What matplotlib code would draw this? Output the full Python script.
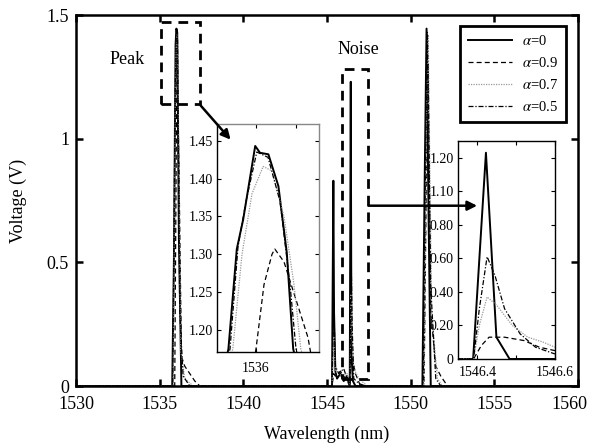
import matplotlib
matplotlib.use("Agg")
import matplotlib.pyplot as plt
from matplotlib.patches import Rectangle, FancyArrowPatch
from matplotlib.transforms import ScaledTranslation

plt.rcParams['font.family'] = ['Liberation Serif', 'DejaVu Serif']
plt.rcParams['mathtext.fontset'] = 'stix'

# ---------------- data ----------------
labels = [r'$\alpha$=0', r'$\alpha$=0.9', r'$\alpha$=0.7', r'$\alpha$=0.5']

# main plot series
wl_a0 = [1530, 1535.75, 1535.85, 1535.95, 1536.0, 1536.05, 1536.15, 1536.3,
         1545.3, 1545.38, 1545.42, 1545.5, 1545.6, 1545.8, 1546.0, 1546.2, 1546.36,
         1546.42, 1546.46, 1546.55, 1546.7, 1550.7, 1550.85, 1550.95, 1551.05, 1551.2, 1560]
v_a0 = [0, 0, 0.5, 1.38, 1.445, 1.43, 0.6, 0,
        0, 0.83, 0.3, 0.06, 0.03, 0.05, 0.02, 0.04, 0.0,
        1.23, 0.13, 0.02, 0, 0, 0.9, 1.445, 0.8, 0, 0]

wl_a9 = [1530, 1535.9, 1536.0, 1536.05, 1536.15, 1536.3, 1536.5, 1536.8, 1537.1, 1537.4,
         1545.3, 1545.4, 1545.5, 1545.8, 1546.1, 1546.38, 1546.43, 1546.5, 1546.7, 1547.0,
         1550.8, 1550.95, 1551.05, 1551.2, 1551.5, 1551.8, 1552.2, 1560]
v_a9 = [0, 0, 1.05, 1.305, 0.9, 0.12, 0.08, 0.05, 0.02, 0,
        0, 0.05, 0.04, 0.06, 0.03, 0, 0.13, 0.12, 0.05, 0,
        0, 0.9, 1.3, 0.3, 0.08, 0.04, 0, 0]

wl_a7 = [1530, 1535.8, 1535.95, 1536.02, 1536.1, 1536.25, 1536.5, 1537.0,
         1545.3, 1545.4, 1545.5, 1545.9, 1546.2, 1546.38, 1546.43, 1546.5, 1546.6, 1546.9, 1547.4,
         1550.8, 1550.95, 1551.05, 1551.25, 1551.6, 1551.9, 1560]
v_a7 = [0, 0, 1.3, 1.42, 1.25, 0.15, 0.03, 0,
        0, 0.2, 0.06, 0.04, 0.05, 0, 0.37, 0.2, 0.07, 0.03, 0,
        0, 1.1, 1.42, 0.3, 0.03, 0, 0]

wl_a5 = [1530, 1535.78, 1535.93, 1536.0, 1536.07, 1536.2, 1536.4, 1536.8,
         1545.3, 1545.4, 1545.5, 1545.7, 1546.0, 1546.2, 1546.38, 1546.43, 1546.5, 1546.6, 1546.9, 1547.3,
         1550.75, 1550.9, 1551.0, 1551.2, 1551.5, 1551.8, 1560]
v_a5 = [0, 0, 1.2, 1.435, 1.4, 0.3, 0.04, 0,
        0, 0.35, 0.08, 0.05, 0.07, 0.03, 0, 0.61, 0.25, 0.03, 0.01, 0,
        0, 1.0, 1.43, 0.4, 0.03, 0, 0]

# inset 1 (peak region)
i1_wl_a0 = [1535.925, 1535.931, 1535.952, 1535.968, 1535.998, 1536.010, 1536.031, 1536.056, 1536.077, 1536.093, 1536.1]
i1_v_a0 = [1.16, 1.175, 1.307, 1.346, 1.443, 1.434, 1.432, 1.390, 1.302, 1.175, 1.16]
i1_wl_a9 = [1535.995, 1536.0, 1536.02, 1536.04, 1536.047, 1536.07, 1536.1, 1536.13, 1536.14]
i1_v_a9 = [1.16, 1.175, 1.26, 1.3, 1.307, 1.29, 1.24, 1.19, 1.16]
i1_wl_a7 = [1535.935, 1535.942, 1535.965, 1535.99, 1536.018, 1536.04, 1536.07, 1536.095, 1536.112, 1536.12]
i1_v_a7 = [1.16, 1.175, 1.30, 1.38, 1.416, 1.41, 1.35, 1.26, 1.175, 1.16]
i1_wl_a5 = [1535.928, 1535.935, 1535.955, 1535.975, 1536.002, 1536.03, 1536.06, 1536.085, 1536.1, 1536.108]
i1_v_a5 = [1.16, 1.175, 1.31, 1.37, 1.435, 1.428, 1.37, 1.26, 1.175, 1.16]

# inset 2 (noise region)
i2_wl_a0 = [1546.35, 1546.389, 1546.422, 1546.449, 1546.483, 1546.6]
i2_v_a0 = [0, 0, 1.23, 0.13, 0, 0]
i2_wl_a9 = [1546.35, 1546.39, 1546.41, 1546.43, 1546.47, 1546.52, 1546.56, 1546.6]
i2_v_a9 = [0, 0, 0.08, 0.13, 0.13, 0.11, 0.07, 0.05]
i2_wl_a7 = [1546.35, 1546.39, 1546.405, 1546.425, 1546.45, 1546.49, 1546.53, 1546.57, 1546.6]
i2_v_a7 = [0, 0, 0.2, 0.37, 0.32, 0.2, 0.13, 0.1, 0.07]
i2_wl_a5 = [1546.35, 1546.39, 1546.405, 1546.425, 1546.445, 1546.47, 1546.51, 1546.55, 1546.6]
i2_v_a5 = [0, 0, 0.3, 0.61, 0.5, 0.3, 0.15, 0.07, 0.03]

main_xticks = [1530, 1535, 1540, 1545, 1550, 1555, 1560]
main_yticks = [0, 0.5, 1, 1.5]
main_yticklabels = ['0', '0.5', '1', '1.5']
i1_yticks = [1.20, 1.25, 1.30, 1.35, 1.40, 1.45]
i1_yticklabels = ['1.20', '1.25', '1.30', '1.35', '1.40', '1.45']
i1_xticks = [1536.0, 1536.1]
i1_xticklabels = ['1536', '']
i2_yticks = [0, 0.2, 0.4, 0.6, 0.8, 1.0, 1.2]
i2_yticklabels = ['0', '0.20', '0.40', '0.60', '0.80', '1.10', '1.20']
i2_xticks = [1546.4, 1546.5, 1546.6]
i2_xticklabels = ['1546.4', '', '1546.6']

styles = [dict(color='black', ls='-', lw=1.4),
          dict(color='black', ls=(0, (4, 2.5)), lw=0.9),
          dict(color='#9a9a9a', ls=(0, (1, 1)), lw=0.9),
          dict(color='black', ls=(0, (4, 1.5, 1, 1.5)), lw=0.9)]

# ---------------- figure ----------------
W, H = 592, 448
fig = plt.figure(figsize=(W / 100, H / 100), dpi=100)

def px_axes(l, t, r, b):
    return fig.add_axes([l / W, 1 - b / H, (r - l) / W, (b - t) / H])

ax = px_axes(76, 15, 578, 386)
series = [(wl_a0, v_a0), (wl_a9, v_a9), (wl_a7, v_a7), (wl_a5, v_a5)]
handles = []
for (x, y), st, lab in zip(series, styles, labels):
    h, = ax.plot(x, y, label=lab, **st)
    handles.append(h)
ax.set_xlim(1530, 1560)
ax.set_ylim(0, 1.5)
ax.set_xticks(main_xticks)
ax.set_yticks(main_yticks)
ax.set_yticklabels(main_yticklabels)
ax.tick_params(direction='in', top=True, right=True, length=5, width=1.8, labelsize=13)
ax.tick_params(axis='x', pad=7)
ax.tick_params(axis='y', pad=5)
for s in ax.spines.values():
    s.set_linewidth(1.8)
ax.set_xlabel('Wavelength (nm)', fontsize=13, labelpad=9)
ax.set_ylabel('Voltage (V)', fontsize=13, labelpad=14)
# shift the last x tick label left so it stays inside the picture, as in the reference
last = ax.get_xticklabels()[-1]
last.set_transform(last.get_transform() + ScaledTranslation(-9 / 100, 0, fig.dpi_scale_trans))

# dashed boxes
ax.add_patch(Rectangle((1535.07, 1.14), 2.33, 0.33, fill=False, ls=(0, (3.5, 2.5)), lw=2.0, ec='black', zorder=5))
ax.add_patch(Rectangle((1545.92, 0.03), 1.55, 1.253, fill=False, ls=(0, (3.5, 2.5)), lw=2.0, ec='black', zorder=5))

ax.text(1533.05, 1.32, 'Peak', fontsize=13, ha='center', va='center')
ax.text(1546.9, 1.36, 'Noise', fontsize=13, ha='center', va='center')

leg = fig.legend(handles=handles, labels=labels, loc='upper right',
                 bbox_to_anchor=(566 / W, 1 - 26 / H), borderaxespad=0, fontsize=10.5,
                 handlelength=3.0, handletextpad=0.7, labelspacing=0.55,
                 borderpad=0.55, fancybox=False, framealpha=1, edgecolor='black')
leg.get_frame().set_linewidth(2.0)

# inset 1
a1 = px_axes(217, 124, 319, 352)
for (x, y), st in zip([(i1_wl_a0, i1_v_a0), (i1_wl_a9, i1_v_a9), (i1_wl_a7, i1_v_a7), (i1_wl_a5, i1_v_a5)], styles):
    a1.plot(x, y, **st)
a1.set_xlim(1535.9025, 1536.1575)
a1.set_ylim(1.171, 1.472)
a1.set_xticks(i1_xticks)
a1.set_xticklabels(i1_xticklabels)
a1.set_yticks(i1_yticks)
a1.set_yticklabels(i1_yticklabels)
a1.tick_params(direction='in', top=True, right=True, length=3, width=0.8, labelsize=10, pad=3)
a1.tick_params(axis='x', pad=7)
for k, s in a1.spines.items():
    s.set_linewidth(1.0)
    s.set_color('black' if k in ('left', 'bottom') else '#888888')

# inset 2
a2 = px_axes(458, 141, 555, 359)
for (x, y), st in zip([(i2_wl_a0, i2_v_a0), (i2_wl_a9, i2_v_a9), (i2_wl_a7, i2_v_a7), (i2_wl_a5, i2_v_a5)], styles):
    a2.plot(x, y, **st)
a2.set_xlim(1546.35, 1546.6)
a2.set_ylim(0, 1.30)
a2.set_xticks(i2_xticks)
a2.set_xticklabels(i2_xticklabels)
a2.set_yticks(i2_yticks)
a2.set_yticklabels(i2_yticklabels)
a2.tick_params(direction='in', top=True, right=True, length=3, width=0.8, labelsize=10, pad=3)
a2.tick_params(axis='x', pad=5)
for s in a2.spines.values():
    s.set_linewidth(1.0)

# arrows drawn above the insets
for start, end in [((1537.45, 1.134), (1539.24, 0.996)), ((1547.47, 0.729), (1553.97, 0.729))]:
    arr = FancyArrowPatch(start, end, transform=ax.transData, arrowstyle='-|>',
                          mutation_scale=14, lw=1.8, color='black', zorder=10,
                          shrinkA=0, shrinkB=0)
    fig.add_artist(arr)

fig.savefig('out.png', dpi=100)
